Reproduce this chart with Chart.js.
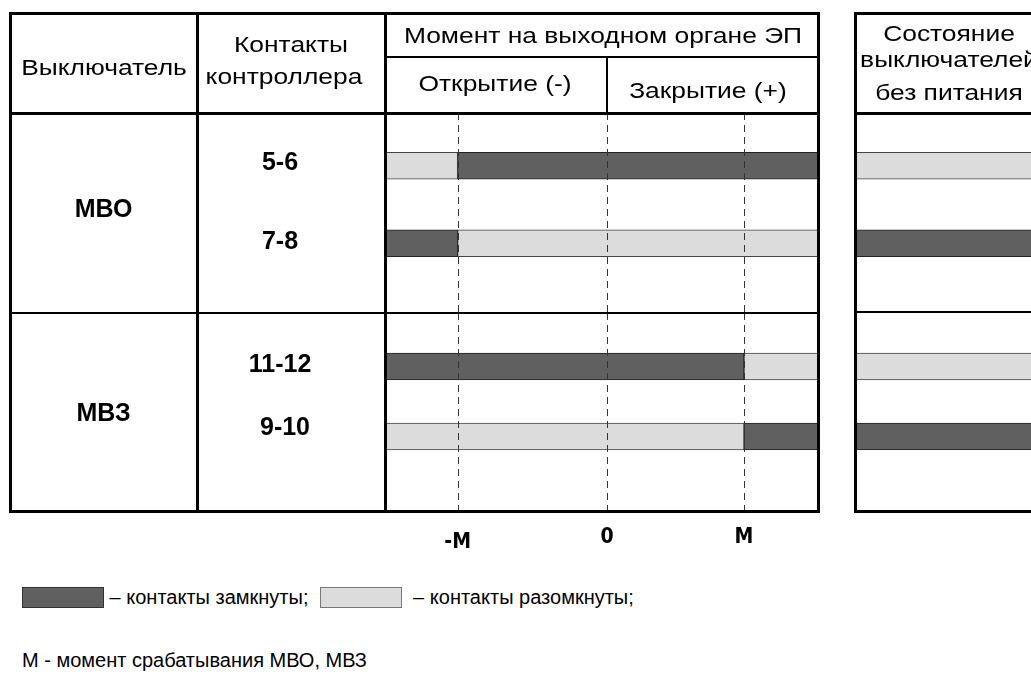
<!DOCTYPE html>
<html>
<head>
<meta charset="utf-8">
<script src="https://cdn.jsdelivr.net/npm/chart.js@4.4.0/dist/chart.umd.min.js"></script>
<style>
html,body{margin:0;padding:0;background:#fff;overflow:hidden;width:1031px;height:674px;}
#root{position:relative;width:1031px;height:674px;overflow:hidden;font-family:'Liberation Sans',Arial,sans-serif;color:#000;}
canvas{position:absolute;}
.ln{position:absolute;background:#000;z-index:5;}
.t{position:absolute;white-space:nowrap;text-align:center;font-size:22px;line-height:26px;height:26px;width:600px;z-index:6;transform:scaleX(1.2);transform-origin:50% 50%;}
.b{font-weight:bold;font-size:25px;transform:none;}
#legend{position:absolute;left:22px;top:585px;height:24px;display:flex;align-items:center;font-size:20px;white-space:nowrap;}
.sw{display:inline-block;width:82px;height:21px;box-sizing:border-box;border:1px solid #333;}
#note{position:absolute;left:22px;top:647px;font-size:20px;line-height:26px;white-space:nowrap;}
</style>
</head>
<body>
<div id="root">
  <canvas id="mainMBO" width="621" height="200" style="left:197px;top:113px;width:621px;height:200px"></canvas>
  <canvas id="mainMBZ" width="621" height="260" style="left:197px;top:313px;width:621px;height:260px"></canvas>
  <canvas id="sideMBO" width="188" height="200" style="left:855px;top:113px;width:188px;height:200px"></canvas>
  <canvas id="sideMBZ" width="188" height="198" style="left:855px;top:313px;width:188px;height:198px"></canvas>

  <div id="legend">
    <span class="sw" id="swClosed"></span><span>&nbsp;– контакты замкнуты;&nbsp;</span>
    <span class="sw" id="swOpen" style="margin-left:6px"></span><span>&nbsp;&nbsp;– контакты разомкнуты;</span>
  </div>
  <div id="note">М - момент срабатывания МВО, МВЗ</div>
</div>
<script>
// ---------- data ----------
const breakers = ['МВО', 'МВЗ'];
const contactsMBO = ['5-6', '7-8'];
const contactsMBZ = ['11-12', '9-10'];
// torque axis (units of M); axis ends
const torqueMin = -1.62;
const torqueMax = 1.54;
const torqueTicks = [-1.09, 0, 1];
const torqueTickLabels = ['-M', '0', 'M'];
// floating bars: [from, to] torque interval for each contact
const closedMBO = [[-1.09, 1.54], [-1.62, -1.09]];
const openMBO   = [[-1.62, -1.09], [-1.09, 1.54]];
const closedMBZ = [[-1.62, 1], [1, 1.54]];
const openMBZ   = [[1, 1.54], [-1.62, 1]];
// state of the breakers without power (full-width bars)
const sideClosedMBO = [null, [0, 1]];
const sideOpenMBO   = [[0, 1], null];
const sideClosedMBZ = [null, [0, 1]];
const sideOpenMBZ   = [[0, 1], null];

const CLOSED = '#606060';
const OPEN = '#dcdcdc';
const NARROW = "'Liberation Sans Narrow','Arial Narrow','DejaVu Sans Condensed',sans-serif";
const SANS = "'Liberation Sans',Arial,sans-serif";

document.getElementById('swClosed').style.background = CLOSED;
document.getElementById('swOpen').style.background = OPEN;
document.getElementById('swOpen').style.borderColor = '#777';

// ---------- table frame (HTML lines) ----------
const root = document.getElementById('root');
function hLine(y, x1, x2, t) {
  const d = document.createElement('div'); d.className = 'ln';
  d.style.left = (x1 - t / 2) + 'px'; d.style.top = (y - t / 2) + 'px';
  d.style.width = (x2 - x1 + t) + 'px'; d.style.height = t + 'px';
  root.appendChild(d);
}
function vLine(x, y1, y2, t) {
  const d = document.createElement('div'); d.className = 'ln';
  d.style.left = (x - t / 2) + 'px'; d.style.top = (y1 - t / 2) + 'px';
  d.style.width = t + 'px'; d.style.height = (y2 - y1 + t) + 'px';
  root.appendChild(d);
}
hLine(13, 10, 818, 3); hLine(113, 10, 818, 3); hLine(313, 10, 818, 2); hLine(511, 10, 818, 3);
hLine(57, 385, 818, 2);
vLine(10, 13, 511, 3); vLine(197, 13, 511, 3); vLine(385, 13, 511, 3); vLine(818, 13, 511, 3);
vLine(607, 57, 113, 2);
hLine(13, 855, 1040, 3); hLine(113, 855, 1040, 3); hLine(312, 855, 1040, 2); hLine(511, 855, 1040, 3);
vLine(855, 13, 511, 3);

function text(str, cx, cy, cls) {
  const d = document.createElement('div'); d.className = 't' + (cls ? ' ' + cls : '');
  d.textContent = str;
  d.style.left = (cx - 300) + 'px'; d.style.top = (cy - 13) + 'px';
  root.appendChild(d);
}
text('Выключатель', 104, 68);
text('Контакты', 291, 45);
text('контроллера', 284, 77);
text('Момент на выходном органе ЭП', 603, 36);
text('Открытие (-)', 495, 84);
text('Закрытие (+)', 708, 91);
text('Состояние', 949, 34);
text('выключателей', 949, 60);
text('без питания', 949, 93);
text(breakers[0], 103.5, 208, 'b');
text(breakers[1], 103.5, 412, 'b');

// ---------- charts ----------
const dashPlugin = {
  id: 'dash',
  afterDatasetsDraw(chart, args, opts) {
    if (!opts.on) return;
    const ctx = chart.ctx, xs = chart.scales.x;
    ctx.save();
    ctx.strokeStyle = '#333'; ctx.lineWidth = 1; ctx.setLineDash([7, 5]);
    torqueTicks.forEach(v => {
      const px = Math.round(xs.getPixelForValue(v)) + 0.5;
      ctx.beginPath(); ctx.moveTo(px, opts.top); ctx.lineTo(px, opts.bottom); ctx.stroke();
    });
    ctx.restore();
  }
};

// contact labels in the "Контакты контроллера" column, placed by the category scale
const rowLabelPlugin = {
  id: 'rowLabels',
  afterDraw(chart, args, opts) {
    if (!opts.on) return;
    const ys = chart.scales.y, ctx = chart.ctx;
    ctx.save();
    ctx.font = 'bold 25px ' + SANS; ctx.fillStyle = '#000';
    ctx.textAlign = 'center'; ctx.textBaseline = 'middle';
    chart.data.labels.forEach((l, i) => {
      const y = ys.getPixelForValue(i) + (opts.dy ? opts.dy[i] : 0);
      const x = chart.chartArea.left - opts.dx + (opts.dxs ? opts.dxs[i] : 0);
      ctx.fillText(l, x, y);
    });
    ctx.restore();
  }
};

function datasets(closed, open) {
  return [
    { label: 'контакты замкнуты', data: closed, backgroundColor: CLOSED, borderColor: '#222',
      borderWidth: 1, borderSkipped: false, barThickness: 27, grouped: false },
    { label: 'контакты разомкнуты', data: open, backgroundColor: OPEN, borderColor: '#444',
      borderWidth: 1, borderSkipped: false, barThickness: 27, grouped: false }
  ];
}

function mainChart(id, labels, closed, open, cfg) {
  return new Chart(document.getElementById(id), {
    type: 'bar',
    data: { labels: labels, datasets: datasets(closed, open) },
    plugins: [dashPlugin, rowLabelPlugin],
    options: {
      indexAxis: 'y', responsive: false, animation: false, devicePixelRatio: 1,
      layout: { padding: { top: cfg.padTop, bottom: cfg.padBottom, left: 188, right: 0 } },
      plugins: { legend: { display: false }, tooltip: { enabled: false },
        dash: { on: true, top: 0, bottom: cfg.dashBottom },
        rowLabels: { on: true, dx: 105, dy: cfg.dy, dxs: cfg.dxs } },
      scales: {
        x: {
          type: 'linear', min: torqueMin, max: torqueMax, display: cfg.showX, position: 'bottom',
          afterBuildTicks: s => { s.ticks = torqueTicks.map(v => ({ value: v })); },
          afterFit: s => { s.height = cfg.showX ? 90 : 0; },
          grid: { display: false, drawTicks: false }, border: { display: false },
          ticks: {
            padding: 53, color: '#000', autoSkip: false, maxRotation: 0,
            callback: (v, i) => torqueTickLabels[i],
            font: c => ({ family: NARROW, size: 21, weight: 'bold', lineHeight: c.index === 0 ? 1.7 : 1.2 })
          }
        },
        y: { type: 'category', display: false }
      }
    }
  });
}

function sideChart(id, labels, closed, open, padTop, padBottom) {
  return new Chart(document.getElementById(id), {
    type: 'bar',
    data: { labels: labels, datasets: datasets(closed, open) },
    options: {
      indexAxis: 'y', responsive: false, animation: false, devicePixelRatio: 1,
      layout: { padding: { top: padTop, bottom: padBottom, left: 0, right: 0 } },
      plugins: { legend: { display: false }, tooltip: { enabled: false } },
      scales: {
        x: { type: 'linear', min: 0, max: 1, display: false },
        y: { type: 'category', display: false }
      }
    }
  });
}

mainChart('mainMBO', contactsMBO, closedMBO, openMBO,
  { padTop: 14, padBottom: 31, dashBottom: 200, showX: false, dy: [-3, -1] });
mainChart('mainMBZ', contactsMBZ, closedMBZ, openMBZ,
  { padTop: 18.5, padBottom: 11.5, dashBottom: 198, showX: true, dy: [-1.5, -8], dxs: [0, 5] });
sideChart('sideMBO', contactsMBO, sideClosedMBO, sideOpenMBO, 14, 31);
sideChart('sideMBZ', contactsMBZ, sideClosedMBZ, sideOpenMBZ, 18.5, 39.5);
</script>
</body>
</html>
